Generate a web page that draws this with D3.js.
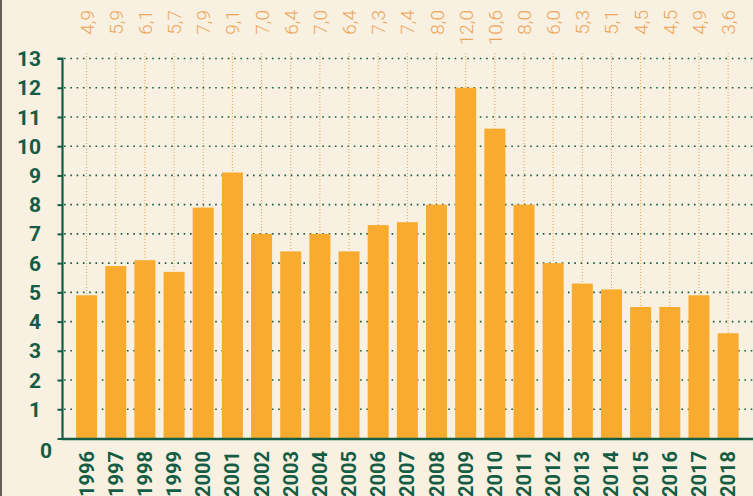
<!DOCTYPE html>
<html>
<head>
<meta charset="utf-8">
<script src="https://cdn.jsdelivr.net/npm/d3@7"></script>
<style>
  body { margin: 0; background: #f8f0e0; }
  svg { display: block; }
</style>
</head>
<body>
<div id="chart"></div>
<script>
// data
var years = ["1996","1997","1998","1999","2000","2001","2002","2003","2004","2005","2006","2007",
             "2008","2009","2010","2011","2012","2013","2014","2015","2016","2017","2018"];
var values = [4.9, 5.9, 6.1, 5.7, 7.9, 9.1, 7.0, 6.4, 7.0, 6.4, 7.3, 7.4,
              8.0, 12.0, 10.6, 8.0, 6.0, 5.3, 5.1, 4.5, 4.5, 4.9, 3.6];
var yTicks = [0, 1, 2, 3, 4, 5, 6, 7, 8, 9, 10, 11, 12, 13];

var svgWidth = 753, svgHeight = 496;
var green = "#145c44", orange = "#f9ab30", labelOrange = "#eea55a";

var svg = d3.select("#chart").append("svg")
  .attr("width", svgWidth)
  .attr("height", svgHeight);

svg.append("rect").attr("width", svgWidth).attr("height", svgHeight).attr("fill", "#f8f0e0");
// left grey edge
svg.append("rect").attr("x", 0).attr("y", 0).attr("width", 2).attr("height", svgHeight).attr("fill", "#66605b");

var x = d3.scaleBand()
  .domain(years)
  .range([72, 742.7])
  .paddingInner(0.28)
  .paddingOuter(0.14);

var y = d3.scaleLinear()
  .domain([0, 13])
  .range([438.5, 58.5]);

var cx = d => x(d) + x.bandwidth() / 2;

// horizontal dotted gridlines
svg.append("g").selectAll("line")
  .data(yTicks.filter(d => d > 0))
  .enter().append("line")
  .attr("x1", 64).attr("x2", svgWidth)
  .attr("y1", d => y(d)).attr("y2", d => y(d))
  .attr("stroke", green)
  .attr("stroke-width", 1.6)
  .attr("stroke-dasharray", "1.6,4.7");

// orange leader lines from labels to bars
svg.append("g").selectAll("line")
  .data(values)
  .enter().append("line")
  .attr("x1", (d, i) => cx(years[i]))
  .attr("x2", (d, i) => cx(years[i]))
  .attr("y1", 53)
  .attr("y2", d => y(d))
  .attr("stroke", "#f0a23c")
  .attr("stroke-width", 1)
  .attr("stroke-dasharray", "1,2");

// bars
svg.append("g").selectAll("rect")
  .data(values)
  .enter().append("rect")
  .attr("x", (d, i) => x(years[i]))
  .attr("width", x.bandwidth())
  .attr("y", d => y(d))
  .attr("height", d => y(0) - y(d))
  .attr("fill", orange);

// value labels on top, rotated, hanging from the top
svg.append("g").selectAll("text")
  .data(values)
  .enter().append("text")
  .attr("transform", (d, i) => `translate(${cx(years[i]) + 7}, 10) rotate(-90)`)
  .attr("text-anchor", "end")
  .attr("font-family", "Roboto, sans-serif")
  .attr("font-weight", 300)
  .attr("font-size", 19)
  .attr("fill", labelOrange)
  .text(d => d.toFixed(1).replace(".", ","));

// y axis
var yAxis = d3.axisLeft(y).tickValues(yTicks).tickSize(5).tickFormat("");
var yAxisG = svg.append("g")
  .attr("transform", "translate(62.5,0)")
  .call(yAxis);
yAxisG.select(".domain").attr("stroke", green).attr("stroke-width", 2.2).attr("d", `M-5,${y(13)}H0V${y(0)}`);
yAxisG.selectAll(".tick line").attr("stroke", green).attr("stroke-width", 2);

// y labels
svg.append("g").selectAll("text")
  .data(yTicks)
  .enter().append("text")
  .attr("x", d => d === 0 ? 52 : 41)
  .attr("y", d => d === 0 ? y(0) + 12 : y(d))
  .attr("dy", "0.36em")
  .attr("text-anchor", "end")
  .attr("font-family", "Roboto, sans-serif")
  .attr("font-weight", 700)
  .attr("font-size", 21)
  .attr("fill", green)
  .text(d => d);

// x axis line
svg.append("line")
  .attr("x1", 62).attr("x2", svgWidth)
  .attr("y1", 439).attr("y2", 439)
  .attr("stroke", green).attr("stroke-width", 2.4);

// year labels, rotated
svg.append("g").selectAll("text")
  .data(years)
  .enter().append("text")
  .attr("transform", d => `translate(${cx(d) + 7}, 451) rotate(-90)`)
  .attr("text-anchor", "end")
  .attr("font-family", "Roboto, sans-serif")
  .attr("font-weight", 700)
  .attr("font-size", 20)
  .attr("fill", green)
  .text(d => d);
</script>
</body>
</html>
